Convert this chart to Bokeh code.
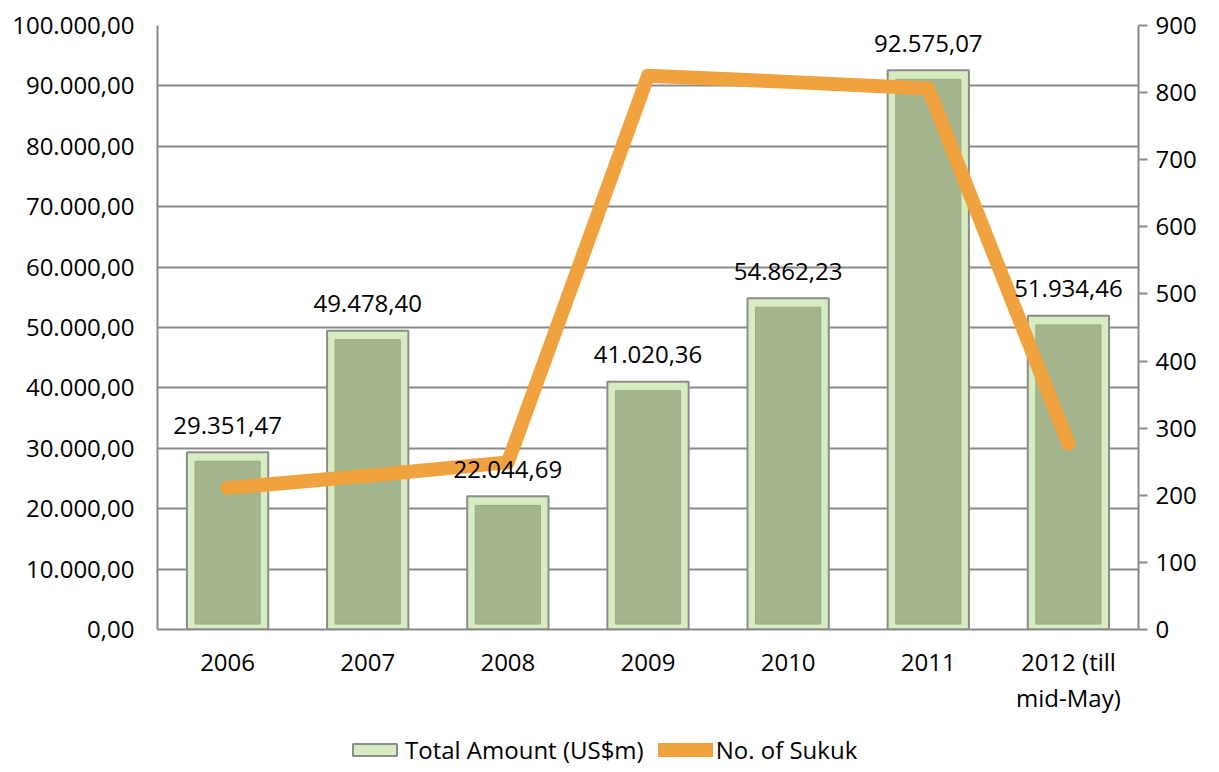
from bokeh.plotting import figure
from bokeh.layouts import column
from bokeh.models import (ColumnDataSource, FactorRange, Range1d, LinearAxis, FixedTicker,
                          Legend, LegendItem)
from bokeh.core.properties import value
from bokeh.embed import file_html
from bokeh.resources import INLINE

categories = ["2006", "2007", "2008", "2009", "2010", "2011", "2012 (till\nmid-May)"]
total_amount = [29351.47, 49478.40, 22044.69, 41020.36, 54862.23, 92575.07, 51934.46]
amount_labels = ["29.351,47", "49.478,40", "22.044,69", "41.020,36", "54.862,23", "92.575,07", "51.934,46"]
no_of_sukuk = [211, 229, 249, 825, 816, 806, 277]
series_names = ["Total Amount (US$m)", "No. of Sukuk"]

left_ticks = [0, 10000, 20000, 30000, 40000, 50000, 60000, 70000, 80000, 90000, 100000]
left_tick_labels = ["0,00", "10.000,00", "20.000,00", "30.000,00", "40.000,00", "50.000,00",
                    "60.000,00", "70.000,00", "80.000,00", "90.000,00", "100.000,00"]
right_ticks = [0, 100, 200, 300, 400, 500, 600, 700, 800, 900]

FONT = "Open Sans"
FS = "24px"
GRID = "#8a8a8a"
BAR_FILL = "#d8ecc2"
BAR_LINE = "#8c8c8c"
INNER_FILL = "#a4b48c"
LINE_COLOR = "#f0a23e"

src = ColumnDataSource(dict(
    cat=categories,
    amt=total_amount,
    inner_top=[v - 1500 for v in total_amount],
    lab=amount_labels,
    n=no_of_sukuk,
))

p = figure(width=1215, height=719, x_range=FactorRange(factors=categories),
           y_range=Range1d(0, 100000), output_backend="svg", toolbar_location=None,
           min_border_left=157, min_border_right=77, min_border_top=25, min_border_bottom=90)
p.extra_y_ranges = {"n": Range1d(0, 900)}
p.outline_line_color = None
p.background_fill_color = "white"

# bars (bevelled look)
outer = p.vbar(x="cat", top="amt", bottom=0, width=0.58, source=src,
               fill_color=BAR_FILL, line_color=BAR_LINE, line_width=2)
p.vbar(x="cat", top="inner_top", bottom=900, width=0.465, source=src,
       fill_color=INNER_FILL, line_color="#9aab82", line_width=1)

# line
ln = p.line(x="cat", y="n", source=src, y_range_name="n", line_color=LINE_COLOR,
            line_width=14, line_cap="round", line_join="round")

# labels
p.text(x="cat", y="amt", text="lab", source=src, text_align="center", text_baseline="middle",
       y_offset=-27, text_font=value(FONT), text_font_size=FS, text_color="#000000")

# axes
p.yaxis.ticker = FixedTicker(ticks=left_ticks)
p.yaxis.major_label_overrides = {t: l for t, l in zip(left_ticks, left_tick_labels)}
p.yaxis.major_tick_line_color = None
p.yaxis.minor_tick_line_color = None
p.yaxis.axis_line_color = GRID
p.yaxis.axis_line_width = 2
p.yaxis.major_label_text_font = FONT
p.yaxis.major_label_text_font_size = FS
p.yaxis.major_label_text_color = "#000000"
p.yaxis.major_label_standoff = 17

ra = LinearAxis(y_range_name="n", ticker=FixedTicker(ticks=right_ticks))
ra.axis_line_color = GRID
ra.axis_line_width = 2
ra.major_tick_line_color = GRID
ra.major_tick_line_width = 2
ra.major_tick_out = 9
ra.major_tick_in = 0
ra.minor_tick_line_color = None
ra.major_label_text_font = FONT
ra.major_label_text_font_size = FS
ra.major_label_text_color = "#000000"
ra.major_label_standoff = 8
p.add_layout(ra, "right")

p.xaxis.axis_line_color = GRID
p.xaxis.axis_line_width = 2
p.xaxis.major_tick_line_color = None
p.xaxis.minor_tick_line_color = None
p.xaxis.major_label_text_font = FONT
p.xaxis.major_label_text_font_size = FS
p.xaxis.major_label_text_color = "#000000"
p.xaxis.major_label_standoff = 9
p.xaxis.major_label_text_line_height = 1.1

p.xgrid.grid_line_color = None
p.ygrid.ticker = FixedTicker(ticks=left_ticks)
p.ygrid.grid_line_color = GRID
p.ygrid.grid_line_width = 2

# legend strip below the chart (legend-only renderers hold no visible data)
lg = figure(width=1215, height=51, x_range=Range1d(0, 1), y_range=Range1d(0, 1),
            output_backend="svg", toolbar_location=None, x_axis_type=None, y_axis_type=None,
            min_border_left=157, min_border_right=77, min_border_top=0, min_border_bottom=0)
lg.outline_line_color = None
lg.xgrid.grid_line_color = None
lg.ygrid.grid_line_color = None
nan = float("nan")
legend_src = ColumnDataSource(dict(x=[nan], top=[nan], y=[nan]))
r_bar = lg.vbar(x="x", top="top", width=0.1, source=legend_src,
                fill_color=BAR_FILL, line_color=BAR_LINE, line_width=2)
r_line = lg.line(x="x", y="y", source=legend_src, line_color=LINE_COLOR, line_width=14,
                 line_cap="round")
legend = Legend(items=[LegendItem(label=series_names[0], renderers=[r_bar]),
                       LegendItem(label=series_names[1], renderers=[r_line])],
                orientation="horizontal", location=(190, 4),
                glyph_width=55, glyph_height=15, label_standoff=3, spacing=14,
                padding=0, margin=0, border_line_color=None, background_fill_alpha=0,
                label_text_font=FONT, label_text_font_size=FS, label_text_color="#000000")
lg.add_layout(legend, "center")

layout = column(p, lg, spacing=0)
open("out.html", "w").write(file_html(layout, INLINE))
